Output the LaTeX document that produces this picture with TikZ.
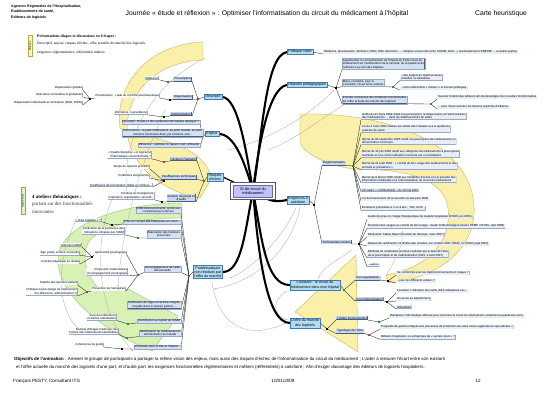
\documentclass[tikz,border=0pt]{standalone}
\usepackage{fontspec}
\setmainfont{Liberation Sans}
\newfontfamily\serifL{Liberation Serif}
\usetikzlibrary{arrows.meta}
\pgfdeclarelayer{bgl}
\pgfdeclarelayer{lnl}
\pgfsetlayers{bgl,lnl,main}
\definecolor{leafc}{HTML}{E8EEF7}
\definecolor{leafline}{HTML}{9AAAC4}
\definecolor{subc}{HTML}{C9D9F1}
\definecolor{subline}{HTML}{4A5E86}
\definecolor{bleafc}{HTML}{D3E1F5}
\definecolor{mainc}{HTML}{B2DCF2}
\definecolor{mainline}{HTML}{3C7CBC}
\definecolor{cenc}{HTML}{C2C2FA}
\definecolor{cenline}{HTML}{6A6AA8}
\definecolor{yelc}{HTML}{FAF0AA}
\definecolor{yelb}{HTML}{BFA848}
\definecolor{grnc}{HTML}{D8F1B4}
\definecolor{grnb}{HTML}{8DB866}
\definecolor{dgreen}{HTML}{2E8B2E}
\definecolor{dred}{HTML}{C0303A}
\definecolor{dpink}{HTML}{C03080}
\definecolor{relc}{HTML}{A8A8A8}
\definecolor{tagy}{HTML}{FCF6B8}
\definecolor{tagyb}{HTML}{B8A850}
\definecolor{tagg}{HTML}{DDF3C6}
\definecolor{taggb}{HTML}{82B05A}
\newcommand\fleaf{\fontsize{2.9}{3.6}\selectfont}
\newcommand\fsub{\fontsize{3.1}{3.7}\selectfont}
\newcommand\fmain{\fontsize{3.6}{4.2}\selectfont}
\newcommand\fcen{\fontsize{3.9}{4.6}\selectfont}
\tikzset{
 shd/.style={path picture={\draw[line width=0.7pt,#1] (path picture bounding box.south west) -- (path picture bounding box.south east) -- (path picture bounding box.north east);}},
 leafR/.style={anchor=west, font=\fleaf, fill=leafc, align=left, inner xsep=0.8pt, inner ysep=0.5pt, shd=leafline},
 leafL/.style={leafR, anchor=east, align=right},
 wleafL/.style={leafL, fill=white!70!leafc},
 bleafR/.style={leafR, fill=bleafc, draw=leafline, line width=0.2pt, shd=subline},
 bleafL/.style={bleafR, anchor=east, align=center},
 subR/.style={anchor=west, font=\fsub, fill=subc, align=center, inner xsep=1pt, inner ysep=0.7pt, shd=subline},
 subL/.style={subR, anchor=east},
 mainN/.style={font=\fmain, fill=mainc, draw=mainline, line width=0.3pt, align=center, inner xsep=1.2pt, inner ysep=0.9pt},
 dot/.style={fill=#1, minimum size=1.8pt, inner sep=0pt},
 conn/.style={line width=0.35pt, black!85},
 thk/.style={line width=2.1pt, line cap=round, black},
 rel/.style={line width=0.3pt, relc, -{Stealth[length=1.6pt,width=1.3pt]}},
 region/.style={line width=0.3pt},
}
\begin{document}
\begin{tikzpicture}[x=1pt,y=-1pt]
\useasboundingbox (0,0) rectangle (559,400);
\begin{pgfonlayer}{bgl}
\fill[white] (0,0) rectangle (559,400);
% yellow region (left, descriptif / risques)
\filldraw[region, fill=yelc, draw=yelb] (203,42) .. controls (148,44) and (114,85) .. (120,128)
  .. controls (150,140) and (200,140) .. (212,178) -- (200,198)
  .. controls (165,192) and (135,170) .. (128,138)
  .. controls (122,100) and (150,62) .. (203,60) -- cycle;
% green region (problematiques)
\filldraw[region, fill=grnc, draw=grnb] (182,203) .. controls (120,203) and (60,225) .. (58,258)
  .. controls (56,292) and (100,330) .. (152,351) -- (178,316) -- (128,289) -- (100,290)
  .. controls (85,275) and (82,255) .. (88,243) .. controls (100,225) and (140,218) .. (182,218) -- cycle;
% yellow region (right, exigences)
\filldraw[region, fill=yelc, draw=yelb] (300,114) .. controls (400,112) and (478,150) .. (474,215)
  .. controls (471,255) and (430,280) .. (388,283) -- (386,275)
  .. controls (425,268) and (452,245) .. (448,208) .. controls (444,180) and (410,172) .. (380,170)
  -- (353,169) .. controls (325,165) and (302,152) .. (300,142) -- cycle;
% yellow kite (existant / offre)
\filldraw[region, fill=yelc, draw=yelb] (295,312) -- (356,255) -- (358,352) -- cycle;
\end{pgfonlayer}

% ---------- header ----------
\node[anchor=north west, align=left, font=\fontsize{3.6}{5.6}\selectfont\bfseries, inner sep=0pt] (hdr) at (11,4.5) {Agences Régionales de l'Hospitalisation,\\Etablissements de santé,\\Editeurs de logiciels};
\node[font=\fontsize{6.8}{8}\selectfont] (title) at (267,14) {Journée « étude et réflexion » : Optimiser l'informatisation du circuit du médicament à l'hôpital};
\node[font=\fontsize{6.8}{8}\selectfont] (carte) at (501,14) {Carte heuristique};

% ---------- matinee / apres-midi ----------
\node[rotate=90, fill=tagy, draw=tagyb, line width=0.3pt, font=\fontsize{2.6}{3}\selectfont, minimum width=21pt, inner sep=0.8pt] (mat) at (30,46) {Matinée};
\node[anchor=west, font=\serifL\fontsize{3.9}{4.5}\selectfont\bfseries, inner sep=0pt] (mh) at (37,37) {Présentations diapos et discussions en 6 étapes :};
\node[anchor=north west, align=left, font=\serifL\fontsize{3.7}{8.2}\selectfont, inner sep=0pt] (mt) at (37,42) {Descriptif, enjeux, risques d'échec, offre actuelle du marché des logiciels,\\exigences réglementaires, référentiels métiers};
\node[rotate=90, fill=tagg, draw=taggb, line width=0.3pt, font=\fontsize{2.6}{3}\selectfont, minimum width=27pt, inner sep=0.8pt] (apm) at (23,201) {Après-midi};
\node[anchor=west, font=\serifL\fontsize{5}{6}\selectfont\bfseries, inner sep=0pt] (ah) at (32,197) {4 ateliers thématiques :};
\node[anchor=north west, align=left, font=\serifL\fontsize{5}{7.5}\selectfont, inner sep=0pt, text=black!80] (at) at (32,202) {portant sur des fonctionnalités\\innovantes};

% ---------- bottom ----------
\node[anchor=west, font=\fontsize{4.4}{5}\selectfont, inner sep=0pt] (obj1) at (14,359) {\textbf{Objectifs de l'animation} : Amener le groupe de participants à partager la même vision des enjeux, mais aussi des risques d'échec de l'informatisation du circuit du médicament ; L'aider à mesurer l'écart entre son existant};
\node[anchor=west, font=\fontsize{4.4}{5}\selectfont, inner sep=0pt] (obj2) at (16,367) {et l'offre actuelle du marché des logiciels d'une part, et d'autre part, les exigences fonctionnelles réglementaires et métiers (référentiels) à satisfaire ; Afin d'exiger davantage des éditeurs de logiciels hospitaliers.};
\node[anchor=west, font=\fontsize{4.6}{5}\selectfont, inner sep=0pt] (auth) at (13,381) {François PESTY, Consultant ITG};
\node[font=\fontsize{4.6}{5}\selectfont, inner sep=0pt] (date) at (283,381) {10/01/2009};
\node[font=\fontsize{4.6}{5}\selectfont, inner sep=0pt] (page) at (478,381) {12};

% ---------- central + main topics ----------
\node[draw=gray!70!black, fill=white, line width=0.3pt, minimum width=45pt, minimum height=17pt] (Cf) at (253,191) {};
\node[font=\fcen, fill=cenc, draw=cenline, line width=0.3pt, minimum width=39pt, minimum height=12.5pt, align=center, inner sep=0.6pt] (C) at (253,191) {SI de circuit du\\médicament};
\node[mainN] (D) at (213,97) {Descriptif};
\node[mainN] (E) at (212,134) {Enjeux};
\node[mainN] (R) at (215,177) {Risques\\d'échec};
\node[mainN] (Pb) at (208,272) {Problématiques\\non résolues par\\l'offre du marché};
\node[mainN] (PV) at (300,52) {Politique visée};
\node[mainN] (OP) at (307,85) {Objectifs pédagogiques};
\node[mainN] (EX) at (298,200) {Exigences à\\satisfaire};
\node[mainN] (LE) at (315,285) {L'existant : le circuit du\\médicament dans mon hôpital};
\node[mainN] (LO) at (305,323) {L'offre du marché\\des logiciels};

% ---------- descriptif ----------
\node[dot=dred] (jD) at (198,99) {};
\node[subL] (pres) at (192,79) {Prescription};
\node[subL] (disp) at (193,97) {Dispensation};
\node[subL] (adm) at (192,114) {Administration};
\node[dot=dgreen] (jPres) at (168,82) {};
\node[wleafL] (med) at (159,78) {Médecins};
\node[dot=black] (jDisp) at (170,100) {};
\node[wleafL] (phar) at (160,96) {Pharmaciens, + aide au contrôle pharmaceutique};
\node[dot=black] (jPh) at (90,99) {};
\node[wleafL] (dg) at (83,88) {Dispensation globale};
\node[wleafL] (dn) at (83,95) {Délivrance nominative et globalisée};
\node[wleafL] (di) at (83,103) {Dispensation individuelle et nominative (DJIN, DHIN)};
\node[dot=black] (jAdm) at (164,117) {};
\node[wleafL] (inf) at (148,113) {Infirmières, +surveillance};

% ---------- enjeux ----------
\node[dot=dgreen] (jE) at (203,137) {};
\node[bleafL] (e1) at (200,122) {Descriptif : Existe-t-il des systèmes informatisés déployés ?};
\node[bleafL] (e2) at (203,133) {Performance : le juste médicament, au juste malade, au juste\\moment, à la bonne dose, par la bonne voie...};
\node[bleafL] (e3) at (200,145) {Efficience : optimiser le rapport coût / efficacité};

% ---------- risques ----------
\node[dot=dgreen] (jR) at (204,181) {};
\node[subL] (fh) at (197,159) {Facteurs Humains};
\node[subL] (it) at (197,177) {Insuffisances techniques};
\node[subL] (gp) at (196,198) {Gestion de projet et\\d'audit};
\node[dot=dred] (jFH) at (164,162) {};
\node[wleafL] (q1) at (152,155) {« Qualité discipline » et logiciel et\\l'informatique conventionnelle ?};
\node[dot=black] (jIT) at (164,181) {};
\node[wleafL] (t1) at (150,167) {Temps de réponse prohibitif};
\node[wleafL] (t2) at (150,176) {Problèmes d'ergonomie};
\node[wleafL] (t3) at (153,185) {Insuffisance de la formation initiale et continue...};
\node[dot=black] (jGP) at (162,202) {};
\node[wleafL] (g1) at (155,196) {Conduite du changement,\\implication, organisation, sécurité...};

% ---------- problematiques ----------
\coordinate (jPb) at (189,276);
\node[bleafL] (rp) at (181,210) {Référentiels pertinents, accès aux\\connaissances externes};
\node[bleafL] (ac) at (181,222) {Prise en compte des traitements en cours...};
\node[bleafL] (em) at (181,234) {Élaboration des meilleurs\\protocoles};
\node[bleafL] (aa) at (181,269) {Accompagnement de l'aide\\décisionnelle};
\node[bleafL] (nr) at (181,305) {Notification de rapport d'activité intégrée\\traçable dans le dossier patient ...};
\node[bleafL] (cl) at (181,321) {Contribution au logiciel de l'AMM};
\node[bleafL] (idm) at (181,333) {Identification du médicament et\\administration au malade};
\node[bleafL] (cv) at (181,347) {Continuité entre la ville et l'hôpital...};
\node[dot=black] (jAC) at (112,225) {};
\node[wleafL] (vm) at (102,220) {« Vrais malades » ?};
\node[dot=dgreen] (jEM) at (138,238) {};
\node[wleafL] (vp) at (125,231) {Vérification de la pertinence des\\indications cliniques par l'AMM};
\node[dot=dgreen] (jAA) at (138,275) {};
\node[wleafL] (ap) at (127,253) {Ajustement posologique};
\node[dot=black] (jAP) at (92,257) {};
\node[wleafL] (ia) at (82,245) {Indication AMM};
\node[wleafL] (ag) at (80,253) {Âge, poids, surface corporelle};
\node[wleafL] (fr) at (80,262) {Fonction hépatique ou rénale};
\node[wleafL] (pa) at (128,272) {Proposition d'alternatives\\Accompagnement posologique};
\node[wleafL] (pi) at (126,289) {Prévention de l'iatrogénie};
\node[dot=dred] (jPI) at (87,292) {};
\node[wleafL] (fd) at (78,283) {Fiabilité des données patient};
\node[wleafL] (po) at (78,292) {Politique la plus élargie de médicament\\à la délivrance, administration (?)};
\node[dot=dgreen] (jCL) at (128,324) {};
\node[wleafL] (sn) at (117,317) {Suivi de notifications\\et alertes individuelles};
\node[dot=dgreen] (jID) at (127,338) {};
\node[wleafL] (bi) at (119,331) {Banque d'images médicales des\\formes des médicaments identifiables};
\node[dot=black] (jCV) at (122,349) {};
\node[wleafL] (cg) at (104,345) {Cohérences du guide};

% ---------- politique visee ----------
\node[leafR] (pv1) at (323,52) {Médecins, pharmaciens, infirmiers, DSIO, DIM, directions, ..., intégrés et associés (DIV, CRISM, GCS...), éventuellement l'ANESM*..., et autres parties};

% ---------- objectifs ----------
\node[dot=black] (jOP) at (336,88) {};
\node[bleafR] (ap1) at (342,64) {Appréhender la compréhension de l'impact du SI de circuit du\\médicament sur l'amélioration de la sécurité, de la qualité et de\\l'efficience au sein des hôpitaux};
\node[bleafR] (mc) at (342,83) {Mieux connaître, pour le\\consolider, l'écart entre existant};
\node[dot=dgreen] (jMC) at (393,87) {};
\node[leafR] (mc1) at (400,77) {...des exigences réglementaires\\actuelles ou attendues};
\node[leafR] (mc2) at (400,88) {...et/ou référentiels « métiers » et bonnes pratiques};
\node[bleafR] (pc) at (342,100) {Prendre conscience des limitations fonctionnelles\\de l'offre actuelle du marché des logiciels};
\node[dot=dgreen] (jPC) at (431,104) {};
\node[leafR] (pc1) at (437,97) {Susciter l'intérêt des éditeurs afin de développer de nouvelles fonctionnalités};
\node[leafR] (pc2) at (437,107) {... pour mieux articuler les besoins exprimés d'éditeurs};

% ---------- exigences ----------
\node[dot=black] (jEX) at (314,205) {};
\node[subR] (reg) at (322,163) {Réglementation};
\node[subR] (rm) at (322,242) {Référentiels métiers};
\node[dot=dgreen] (jReg) at (353,166) {};
\node[leafR] (r1) at (361,116) {Arrêté du 31 mars 1999 relatif à la prescription, la dispensation et l'administration\\des médicaments ... dans les établissements de santé};
\node[leafR] (r2) at (361,129) {Loi du 4 mars 2002 relative aux droits des malades et à la qualité du\\système de santé};
\node[leafR] (r3) at (361,141) {Décret du 06 septembre 2005 relatif à la prescription de médicaments en\\dénomination commune};
\node[leafR] (r4) at (361,154) {Décret du 16 juin 2006 relatif aux catégories de médicaments à prescription\\restreinte et à la contre-indication exclusive par un prestataire};
\node[leafR] (r5) at (361,166) {Décret du 24 août 2005 : « contrat de bon usage des médicaments et des\\produits et prestations »};
\node[leafR] (r6) at (361,179) {Décret du 9 février 2006 relatif aux modalités d'accès et à la sécurité des\\informations médicales et à l'informatisation du circuit du médicament};
\node[leafR] (r7) at (361,190) {Circulaire « confidentialité » du 18 mai 2007};
\node[leafR] (r8) at (361,199) {Loi de financement de la sécurité sociale pour 2008};
\node[leafR] (r9) at (361,208) {Évolutions prévisibles à 2 ou 3 ans : T2A, GHS...};
\node[dot=black] (jRM) at (359,244) {};
\node[leafR] (m1) at (367,217) {Guide de prise en charge thérapeutique du malade hospitalisé (DHOS juin 2004)};
\node[leafR] (m2) at (367,226) {Évolution des usages au contrat de bon usage : Guide méthodologique (textes HPMP / DHOS, sept 2006)};
\node[leafR] (m3) at (367,235) {Medication Safety Report (Conseil de l'Europe, mars 2007)};
\node[leafR] (m4) at (367,244) {Manuel de certification V2 (Partie des activités, 1er octobre 2007 (HAS), et V2010 (sept 2007)};
\node[leafR] (m5) at (367,254) {Méthode de certification promue et pilotée par le biais de l'état\\de la prescription et de l'administration (HAS, 2 août 2007)};
\node[leafR] (m6) at (367,265) {...autres};

% ---------- existant ----------
\node[dot=dgreen] (jLE) at (344,290) {};
\node[subR] (so) at (355,278) {Son organisation};
\node[subR] (si) at (355,299) {Son informatisation};
\node[dot=black] (jSO) at (388,281) {};
\node[leafR] (so1) at (396,273) {Sa conformité avec les dysfonctionnements et risques ?};
\node[leafR] (so2) at (396,281) {...pour les différents acteurs ?};
\node[dot=black] (jSI) at (387,302) {};
\node[leafR] (si1) at (396,291) {L'existant, l'utilisation des outils (SIH) utilisateurs aux...};
\node[leafR] (si2) at (396,299) {Un accès au déploiement};
\node[leafR] (si3) at (396,307) {Utilisabilité};

% ---------- offre ----------
\node[dot=black] (jLO) at (327,329) {};
\node[subR] (lf) at (336,318) {Limites fonctionnelles};
\node[subR] (to) at (336,331) {Typologie de l'offre};
\node[dot=dgreen] (jLF) at (379,322) {};
\node[leafR] (lf1) at (389,316) {Remplacer l'informatique efficace pour sécuriser le circuit du médicament, améliorer la qualité des soins};
\node[dot=dpink] (jTO) at (369,335) {};
\node[leafR] (to1) at (380,327) {Progiciels de gestion intégrés des processus de production de soins versus applications spécialisées ?};
\node[leafR] (to2) at (380,337) {Éditeurs hospitaliers ou entreprises du « secteur privé » ?};

% ---------- connectors ----------
\begin{pgfonlayer}{lnl}
% relationship curves
\draw[rel] (228,150) .. controls (270,140) and (310,115) .. (334,90);
\draw[rel] (212,283) .. controls (222,340) and (262,335) .. (288,322);
\draw[rel] (300,207) .. controls (292,250) and (255,282) .. (214,289);
\draw[rel] (296,208) .. controls (282,240) and (250,270) .. (230,278);
\draw[rel] (268,150) .. controls (295,140) and (322,118) .. (345,104);
\draw[rel] (352,250) .. controls (335,262) and (322,268) .. (318,279);
\draw[rel] (386,276) .. controls (396,258) and (404,244) .. (402,231);
\draw[rel] (287,291) .. controls (272,300) and (272,314) .. (287,320);
\draw[rel] (112,199) .. controls (88,260) and (105,322) .. (133,351);
\draw[rel] (78,216) .. controls (52,268) and (58,318) .. (86,334);
\draw[rel] (205,58) .. controls (150,85) and (118,145) .. (128,200);
\draw[rel] (165,110) .. controls (140,165) and (122,228) .. (118,287);
% thick main branches
\draw[thk] (D.east) .. controls (238,97) and (246,150) .. (C.center);
\draw[thk] (E.east) .. controls (234,134) and (244,160) .. (C.center);
\draw[thk] (PV.west) .. controls (265,55) and (262,140) .. (C.center);
\draw[thk] (OP.west) .. controls (268,88) and (258,150) .. (C.center);
\draw[thk, line width=1.2pt] (R.east) -- (C.center);
\draw[thk] (C.center) .. controls (245,230) and (242,272) .. (Pb.east);
\draw[thk] (C.center) .. controls (268,200) and (272,203) .. (EX.west);
\draw[thk] (C.center) .. controls (262,240) and (266,285) .. (LE.west);
\draw[thk] (C.center) .. controls (258,250) and (266,323) .. (LO.west);
% descriptif
\draw[conn] (D.west) -- (jD.center) -- (pres.south east);
\draw[conn] (jD.center) -- (disp.south east);
\draw[conn] (jD.center) -- (adm.south east);
\draw[conn] (pres.south west) -- (jPres.center) -- (med.south east);
\draw[conn] (disp.south west) -- (jDisp.center) -- (phar.south east);
\draw[conn] (phar.south west) -- (jPh.center) -- (dg.south east);
\draw[conn] (jPh.center) -- (dn.south east);
\draw[conn] (jPh.center) -- (di.south east);
\draw[conn] (adm.south west) -- (jAdm.center) -- (inf.south east);
% enjeux
\draw[conn] (E.west) -- (jE.center) -- (e1.south east);
\draw[conn] (jE.center) -- (e2.south east);
\draw[conn] (jE.center) -- (e3.south east);
% risques
\draw[conn] (R.west) -- (jR.center) -- (fh.south east);
\draw[conn] (jR.center) -- (it.south east);
\draw[conn] (jR.center) -- (gp.south east);
\draw[conn] (fh.south west) -- (jFH.center) -- (q1.south east);
\draw[conn] (it.south west) -- (jIT.center) -- (t1.south east);
\draw[conn] (jIT.center) -- (t2.south east);
\draw[conn] (jIT.center) -- (t3.south east);
\draw[conn] (gp.south west) -- (jGP.center) -- (g1.south east);
% problematiques
\draw[conn] (Pb.west) -- (jPb);
\foreach \n in {rp,ac,em,aa,nr,cl,idm,cv} { \draw[conn] (jPb) -- (\n.south east); }
\draw[conn] (ac.south west) -- (jAC.center) -- (vm.south east);
\draw[conn] (em.south west) -- (jEM.center) -- (vp.south east);
\draw[conn] (aa.south west) -- (jAA.center) -- (ap.south east);
\draw[conn] (jAA.center) -- (pa.south east);
\draw[conn] (jAA.center) -- (pi.south east);
\draw[conn] (ap.south west) -- (jAP.center) -- (ia.south east);
\draw[conn] (jAP.center) -- (ag.south east);
\draw[conn] (jAP.center) -- (fr.south east);
\draw[conn] (pi.south west) -- (jPI.center) -- (fd.south east);
\draw[conn] (jPI.center) -- (po.south east);
\draw[conn] (cl.south west) -- (jCL.center) -- (sn.south east);
\draw[conn] (idm.south west) -- (jID.center) -- (bi.south east);
\draw[conn] (cv.south west) -- (jCV.center) -- (cg.south east);
% politique, objectifs
\draw[conn] (PV.east) -- (pv1.south west);
\draw[conn] (OP.east) -- (jOP.center) -- (ap1.south west);
\draw[conn] (jOP.center) -- (mc.south west);
\draw[conn] (jOP.center) -- (pc.south west);
\draw[conn] (mc.south east) -- (jMC.center) -- (mc1.south west);
\draw[conn] (jMC.center) -- (mc2.south west);
\draw[conn] (pc.south east) -- (jPC.center) -- (pc1.south west);
\draw[conn] (jPC.center) -- (pc2.south west);
% exigences
\draw[conn] (EX.east) -- (jEX.center) -- (reg.south west);
\draw[conn] (jEX.center) -- (rm.south west);
\draw[conn] (reg.south east) -- (jReg.center);
\foreach \n in {r1,r2,r3,r4,r5,r6,r7,r8,r9} { \draw[conn] (jReg.center) -- (\n.south west); }
\draw[conn] (rm.south east) -- (jRM.center);
\foreach \n in {m1,m2,m3,m4,m5,m6} { \draw[conn] (jRM.center) -- (\n.south west); }
% existant
\draw[conn] (LE.east) -- (jLE.center) -- (so.south west);
\draw[conn] (jLE.center) -- (si.south west);
\draw[conn] (so.south east) -- (jSO.center) -- (so1.south west);
\draw[conn] (jSO.center) -- (so2.south west);
\draw[conn] (si.south east) -- (jSI.center) -- (si1.south west);
\draw[conn] (jSI.center) -- (si2.south west);
\draw[conn] (jSI.center) -- (si3.south west);
% offre
\draw[conn] (LO.east) -- (jLO.center) -- (lf.south west);
\draw[conn] (jLO.center) -- (to.south west);
\draw[conn] (lf.south east) -- (jLF.center) -- (lf1.south west);
\draw[conn] (to.south east) -- (jTO.center) -- (to1.south west);
\draw[conn] (jTO.center) -- (to2.south west);
\end{pgfonlayer}
\end{tikzpicture}
\end{document}
